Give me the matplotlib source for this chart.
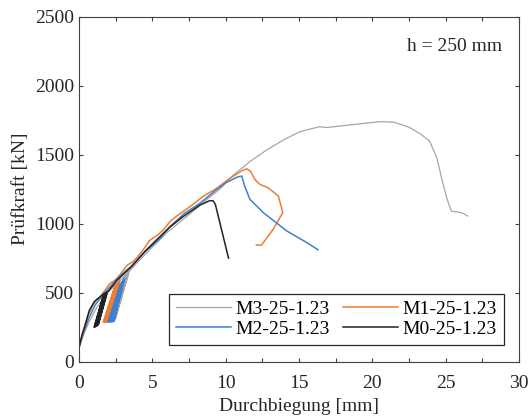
import numpy as np
import matplotlib.pyplot as plt

plt.rcParams['font.family'] = ['Liberation Serif', 'DejaVu Serif']
plt.rcParams['font.size'] = 14

# Kraft-Durchbiegungs-Kurven (Huellkurve)
m3_x = [0, 0.3, 0.7, 1.2, 1.8, 2.5, 3.3, 4.0, 5.0, 6.0, 7.5, 9.0, 9.6, 10.5, 11.66, 12.8, 14.0,
        15.07, 16.4, 16.9, 18.0, 19.5, 20.6, 21.5, 22.5, 23.3, 23.9, 24.4, 24.8, 25.1, 25.4, 25.8,
        26.2, 26.5]
m3_y = [100, 190, 290, 390, 480, 560, 640, 720, 830, 935, 1065, 1200, 1250, 1350, 1450, 1534, 1610,
        1667, 1703, 1697, 1710, 1728, 1740, 1735, 1700, 1650, 1600, 1480, 1300, 1180, 1090, 1085,
        1075, 1055]

m1_x = [0, 0.3, 0.6, 0.95, 1.2, 1.45, 1.65, 2.1, 2.45, 2.8, 3.3, 3.7, 4.0, 4.3, 4.84, 5.4, 5.75,
        6.2, 6.6, 7.57, 8.5, 9.39, 10.3, 11.2, 11.45, 11.7, 12.0, 12.35, 12.9, 13.6, 13.9, 13.9,
        13.25, 12.45, 12.1]
m1_y = [100, 230, 330, 410, 450, 465, 500, 565, 590, 630, 700, 725, 760, 800, 880, 920, 954,
        1014, 1050, 1123, 1200, 1256, 1330, 1389, 1397, 1380, 1320, 1284, 1260, 1200, 1080, 1080,
        960, 845, 845]

m2_x = [0, 0.3, 0.7, 1.1, 1.6, 2.1, 2.6, 3.0, 3.6, 4.5, 5.5, 6.2, 7.2, 8.25, 9.3, 10.07, 10.86,
        11.1, 11.3, 11.66, 12.57, 14.16, 15.5, 16.3]
m2_y = [100, 210, 320, 410, 480, 540, 600, 640, 695, 795, 890, 978, 1075, 1148, 1240, 1300, 1340,
        1345, 1272, 1176, 1080, 948, 865, 811]

m0_x = [0, 0.2, 0.4, 0.7, 1.05, 1.6, 2.0, 2.6, 3.6, 4.5, 5.52, 6.2, 7.1, 8.25, 8.93, 9.16, 9.3, 10.2]
m0_y = [100, 190, 255, 370, 435, 485, 510, 590, 690, 800, 906, 975, 1051, 1135, 1167, 1165, 1140, 750]

# Be- und Entlastungszyklen
m3_cx = [2.15, 3.10, 2.20, 3.15, 2.25, 3.20, 2.30, 3.25, 2.35, 3.30, 2.40, 3.35, 2.45, 3.40]
m3_cy = [300, 610, 300, 618, 302, 626, 302, 634, 304, 640, 305, 646, 306, 650]
m1_cx = [1.68, 2.45, 1.73, 2.50, 1.78, 2.56, 1.83, 2.62, 1.88, 2.68, 1.93, 2.74, 1.96, 2.78]
m1_cy = [290, 540, 290, 550, 290, 558, 290, 566, 290, 574, 290, 582, 290, 590]
m2_cx = [2.00, 2.85, 2.06, 2.89, 2.12, 2.93, 2.18, 2.97, 2.24, 3.01, 2.30, 3.06, 2.36, 3.10]
m2_cy = [290, 560, 290, 567, 290, 574, 290, 581, 290, 588, 291, 594, 292, 600]
m0_cx = [1.05, 1.65, 1.09, 1.69, 1.13, 1.73, 1.17, 1.77, 1.21, 1.81, 1.25, 1.86, 1.30, 1.90]
m0_cy = [252, 470, 254, 474, 256, 478, 258, 482, 261, 486, 264, 490, 268, 494]

labels = ['M3-25-1.23', 'M1-25-1.23', 'M2-25-1.23', 'M0-25-1.23']
colors = ['#a6a6a6', '#ed7d31', '#3f7fd0', '#222222']

fig = plt.figure(figsize=(5.3, 4.19), dpi=100)
ax = fig.add_axes([0.149, 0.137, 0.830, 0.823])

curves = [(m3_x, m3_y, m3_cx, m3_cy), (m1_x, m1_y, m1_cx, m1_cy),
          (m2_x, m2_y, m2_cx, m2_cy), (m0_x, m0_y, m0_cx, m0_cy)]
handles = []
for (x, y, cx, cy), lab, c in zip(curves, labels, colors):
    lw = 0.9 if lab.startswith('M3') else 1.1
    h, = ax.plot(x, y, color=c, lw=lw, label=lab)
    ax.plot(cx, cy, color=c, lw=1.4)
    handles.append(h)

ax.set_xlim(0, 30)
ax.set_ylim(0, 2500)
ax.set_xticks(np.arange(0, 31, 5))
ax.set_xticks(np.arange(0, 30.1, 2.5), minor=True)
ax.set_yticks(np.arange(0, 2501, 500))
ax.tick_params(which='both', direction='in', top=True, right=True, length=3,
               width=0.8, color='#404040', labelcolor='#262626')
ax.tick_params(axis='x', pad=10)
for s in ax.spines.values():
    s.set_color('#404040')
    s.set_linewidth(0.8)

ax.set_xlabel('Durchbiegung [mm]', color='#262626', labelpad=4)
ax.set_ylabel('Prüfkraft [kN]', color='#262626', labelpad=4)
ax.text(0.961, 0.915, 'h = 250 mm', transform=ax.transAxes, ha='right', va='center',
        color='#262626')

leg = ax.legend([handles[0], handles[2], handles[1], handles[3]],
                [labels[0], labels[2], labels[1], labels[3]],
                ncol=2, loc='lower right', bbox_to_anchor=(0.966, 0.048),
                borderaxespad=0, fancybox=False, framealpha=1, edgecolor='#262626',
                handlelength=2.8, handletextpad=0.25, columnspacing=0.7,
                labelspacing=0.12, borderpad=0.35)
leg.get_frame().set_linewidth(0.9)

fig.savefig('out.png', dpi=100)
